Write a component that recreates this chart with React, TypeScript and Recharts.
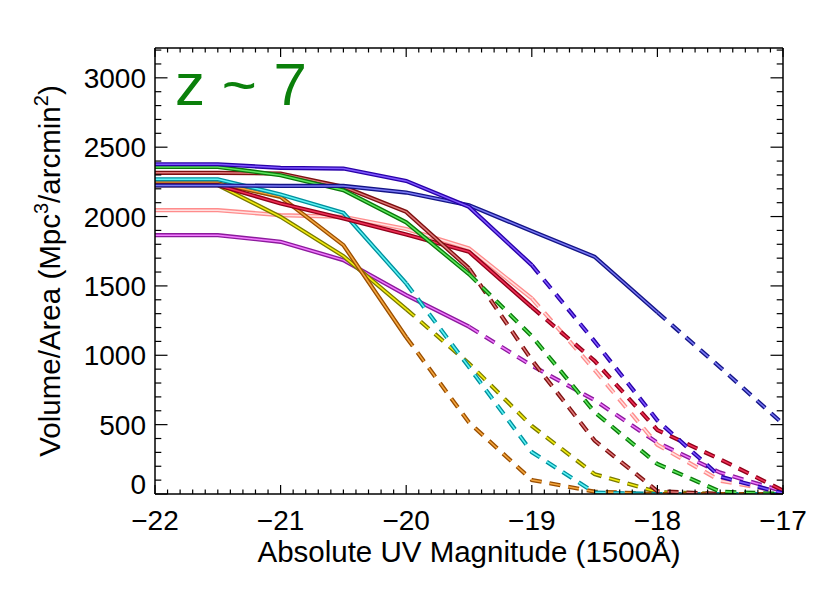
import { LineChart, Line, XAxis, YAxis } from "recharts";

const mags = [-22, -21.5, -21, -20.5, -20, -19.5, -19, -18.5, -18, -17.5, -17];

const magenta = [1866, 1866, 1818, 1686, 1434, 1206, 925, 677, 370, 154, 20];
const pink = [2046, 2046, 2010, 1998, 1910, 1770, 1410, 895, 355, 96, 15];
const yellow = [2226, 2226, 1998, 1715, 1333, 941, 490, 143, 14, 0, 0];
const orange = [2240, 2240, 2142, 1794, 1130, 516, 101, 17, 0, 0, 0];
const cyan = [2269, 2269, 2159, 2027, 1518, 915, 302, 10, 0, 0, 0];
const crimson = [2226, 2226, 2094, 1986, 1870, 1746, 1347, 960, 461, 250, 25];
const brown = [2315, 2315, 2310, 2214, 2034, 1626, 965, 385, 20, 0, 0];
const green = [2358, 2358, 2298, 2190, 1958, 1585, 1138, 590, 216, 17, 0];
const navy = [2224, 2224, 2221, 2221, 2173, 2082, 1895, 1710, 1310, 913, 505];
const violet = [2377, 2377, 2351, 2346, 2257, 2070, 1650, 1100, 530, 125, 5];

// faintest magnitude still drawn solid, dashed beyond it
const solidUntil = [-19.5, -19, -20, -20, -20, -19, -19.5, -19.5, -18, -19];

const xTicks = Array.from({ length: 51 }, (_, i) => Math.round((-22 + i * 0.1) * 10) / 10);
const yTicks = Array.from({ length: 33 }, (_, i) => i * 100);

const series = [
  { key: "magenta", values: magenta, outer: "#8c1a9c", inner: "#f27cff" },
  { key: "pink", values: pink, outer: "#ff8c8c", inner: "#ffe2e2" },
  { key: "yellow", values: yellow, outer: "#7a7a00", inner: "#f5ee10" },
  { key: "orange", values: orange, outer: "#9a4e00", inner: "#f5a840" },
  { key: "cyan", values: cyan, outer: "#00909e", inner: "#5ff5f5" },
  { key: "crimson", values: crimson, outer: "#900018", inner: "#f03058" },
  { key: "brown", values: brown, outer: "#7e1010", inner: "#e07a7a" },
  { key: "green", values: green, outer: "#0a780a", inner: "#5ee85e" },
  { key: "navy", values: navy, outer: "#141486", inner: "#7a7af5" },
  { key: "violet", values: violet, outer: "#2800a8", inner: "#7f58ff" },
].map((s, i) => ({ ...s, until: solidUntil[i] }));

const rows = mags.map((m, i) => {
  const row: Record<string, number | null> = { mag: m };
  series.forEach((s) => {
    row[s.key + "S"] = m <= s.until ? s.values[i] : null;
    row[s.key + "D"] = m >= s.until ? s.values[i] : null;
  });
  return row;
});

const FONT = "'Liberation Sans', Arial, Helvetica, sans-serif";
const fmt = (v: number) => (v < 0 ? "\u2212" + Math.abs(v) : String(v));
const isWhole = (v: number) => Math.abs(v - Math.round(v)) < 1e-6;

function BottomTick({ x, y, payload }: any) {
  const v = payload.value;
  const major = isWhole(v);
  return (
    <g>
      <line x1={x} x2={x} y1={y} y2={y - (major ? 9 : 4.5)} stroke="#000" strokeWidth={1.2} />
      {major && (
        <text x={x} y={y + 36} textAnchor="middle" fontSize={28} fontFamily={FONT} fill="#000">
          {fmt(v)}
        </text>
      )}
    </g>
  );
}

function TopTick({ x, y, payload }: any) {
  const major = isWhole(payload.value);
  return <line x1={x} x2={x} y1={y} y2={y + (major ? 9 : 4.5)} stroke="#000" strokeWidth={1.2} />;
}

function LeftTick({ x, y, payload }: any) {
  const v = payload.value;
  const major = v % 500 === 0;
  return (
    <g>
      <line x1={x} x2={x + (major ? 12.5 : 6.3)} y1={y} y2={y} stroke="#000" strokeWidth={1.2} />
      {major && (
        <text x={x - 9} y={y + 10 - (v === 0 ? 10 : 0)} textAnchor="end" fontSize={28} fontFamily={FONT} fill="#000">
          {v}
        </text>
      )}
    </g>
  );
}

function RightTick({ x, y, payload }: any) {
  const major = payload.value % 500 === 0;
  return <line x1={x} x2={x - (major ? 12.5 : 6.3)} y1={y} y2={y} stroke="#000" strokeWidth={1.2} />;
}

const axisLine = { stroke: "#000", strokeWidth: 1.5 };
const DASH = "11 8";

export default function App() {
  return (
    <div style={{ position: "absolute", left: 0, top: 0, width: 830, height: 593, background: "#fff" }}>
      <LineChart width={830} height={593} data={rows} margin={{ top: 47, right: 46, bottom: 0, left: 0 }}>
        <XAxis
          xAxisId="b"
          dataKey="mag"
          type="number"
          domain={[-22, -17]}
          ticks={xTicks}
          interval={0}
          height={99}
          tickSize={0}
          tickMargin={0}
          tickLine={false}
          axisLine={axisLine}
          tick={(p: any) => <BottomTick {...p} />}
        />
        <XAxis
          xAxisId="t"
          orientation="top"
          dataKey="mag"
          type="number"
          domain={[-22, -17]}
          ticks={xTicks}
          interval={0}
          height={1}
          tickSize={0}
          tickMargin={0}
          tickLine={false}
          axisLine={axisLine}
          tick={(p: any) => <TopTick {...p} />}
        />
        <YAxis
          yAxisId="l"
          type="number"
          domain={[0, 3215]}
          allowDataOverflow
          ticks={yTicks}
          interval={0}
          width={155}
          tickSize={0}
          tickMargin={0}
          tickLine={false}
          axisLine={axisLine}
          tick={(p: any) => <LeftTick {...p} />}
        />
        <YAxis
          yAxisId="r"
          orientation="right"
          type="number"
          domain={[0, 3215]}
          allowDataOverflow
          ticks={yTicks}
          interval={0}
          width={1}
          tickSize={0}
          tickMargin={0}
          tickLine={false}
          axisLine={axisLine}
          tick={(p: any) => <RightTick {...p} />}
        />
        {series.flatMap((s) => [
          <Line key={s.key + "So"} xAxisId="b" yAxisId="l" type="linear" dataKey={s.key + "S"} stroke={s.outer} strokeWidth={4.2} dot={false} activeDot={false} isAnimationActive={false} />,
          <Line key={s.key + "Si"} xAxisId="b" yAxisId="l" type="linear" dataKey={s.key + "S"} stroke={s.inner} strokeWidth={1.5} dot={false} activeDot={false} isAnimationActive={false} />,
          <Line key={s.key + "Do"} xAxisId="b" yAxisId="l" type="linear" dataKey={s.key + "D"} stroke={s.outer} strokeWidth={4.2} strokeDasharray={DASH} dot={false} activeDot={false} isAnimationActive={false} />,
          <Line key={s.key + "Di"} xAxisId="b" yAxisId="l" type="linear" dataKey={s.key + "D"} stroke={s.inner} strokeWidth={1.5} strokeDasharray={DASH} dot={false} activeDot={false} isAnimationActive={false} />,
        ])}
      </LineChart>
      <svg width={830} height={593} style={{ position: "absolute", left: 0, top: 0, pointerEvents: "none" }}>
        <text x={175} y={105} fontSize={60} fontFamily={FONT} fill="#0b800b">
          z ~ 7
        </text>
        <text x={469} y={562} textAnchor="middle" fontSize={29.5} fontFamily={FONT} fill="#000">
          Absolute UV Magnitude (1500Å)
        </text>
        <text transform="translate(60,271) rotate(-90)" textAnchor="middle" fontSize={29.5} fontFamily={FONT} fill="#000">
          Volume/Area (Mpc
          <tspan fontSize={20} dy={-12}>3</tspan>
          <tspan dy={12}>/arcmin</tspan>
          <tspan fontSize={20} dy={-12}>2</tspan>
          <tspan dy={12}>)</tspan>
        </text>
      </svg>
    </div>
  );
}
